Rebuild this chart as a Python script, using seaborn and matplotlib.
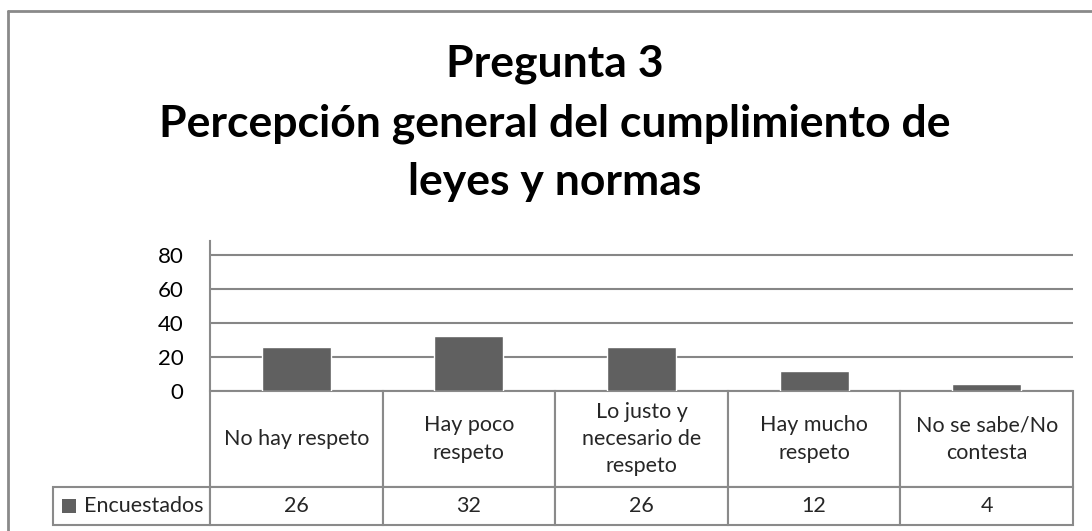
import textwrap
import numpy as np
import pandas as pd
import matplotlib
matplotlib.use("Agg")
import matplotlib.pyplot as plt
import seaborn as sns
from matplotlib.lines import Line2D
from matplotlib.patches import Rectangle
from matplotlib.table import Table

# ---- data ----
categories = ["No hay respeto", "Hay poco respeto", "Lo justo y necesario de respeto",
              "Hay mucho respeto", "No se sabe/No contesta"]
encuestados = [26, 32, 26, 12, 4]
series_name = "Encuestados"
y_ticks = [0, 20, 40, 60, 80]
title_lines = ["Pregunta 3", "Percepción general del cumplimiento de", "leyes y normas"]

# ---- style ----
sns.set_theme(style="white")
plt.rcParams["font.family"] = ["Lato", "DejaVu Sans"]

BAR = "#606060"
GRID = "#868686"
EDGE = "#8a8a8a"

W, H = 1092, 531
fig = plt.figure(figsize=(W / 100, H / 100), dpi=100)
fig.patch.set_facecolor("white")

# plot area
ax = fig.add_axes([210 / W, 1 - 391 / H, 863 / W, 150 / H])
df = pd.DataFrame({"cat": categories, "val": encuestados})
sns.barplot(data=df, x="cat", y="val", order=categories, color=BAR,
            saturation=1, width=0.4, ax=ax, zorder=3)
ax.set_xlim(-0.5, len(categories) - 0.5)
ax.set_ylim(0, 88)
ax.set_yticks(y_ticks)
ax.set_yticklabels([str(t) for t in y_ticks])
ax.set_xticks([])
ax.set_xlabel("")
ax.set_ylabel("")
ax.grid(axis="y", color=GRID, lw=1.5)
ax.set_axisbelow(True)
for s in ["top", "right", "bottom"]:
    ax.spines[s].set_visible(False)
ax.spines["left"].set_color(EDGE)
ax.spines["left"].set_linewidth(1.5)
ax.tick_params(axis="y", length=0, pad=19, labelsize=16, labelcolor="black")

# data table under the plot
wrapped = [textwrap.fill(c, 14) for c in categories]
cell_text = [[""] + wrapped, [series_name] + [str(v) for v in encuestados]]
widths = [157] + [172.6] * len(categories)
heights = [96, 38]
tbl = Table(ax, bbox=[(53 - 210) / 863, -134 / 150, 1020 / 863, 134 / 150])
for r, row in enumerate(cell_text):
    for c, txt in enumerate(row):
        loc = "right" if (r == 1 and c == 0) else "center"
        cell = tbl.add_cell(r, c, width=widths[c], height=heights[r], text=txt,
                            loc=loc, facecolor="white", edgecolor=EDGE)
        cell.set_linewidth(1.5)
        cell.get_text().set_linespacing(1.45)
        if r == 1 and c == 0:
            cell.PAD = 0.04
tbl[0, 0].visible_edges = "open"
tbl.auto_set_font_size(False)
tbl.set_fontsize(15.5)
ax.add_table(tbl)

# legend key in the table
ax.add_patch(Rectangle(((62 - 210) / 863, (391 - 513) / 150), 14 / 863, 14 / 150,
                       transform=ax.transAxes, facecolor=BAR, edgecolor="none",
                       clip_on=False, zorder=5))

# title (three centred lines)
for line, base in zip(title_lines, [77, 137, 195]):
    fig.text(555 / W, 1 - base / H, line, ha="center", va="baseline",
             fontsize=32, fontweight="bold", color="black")

# chart border (top and left visible)
fig.add_artist(Line2D([8 / W, 1.0], [1 - 11 / H, 1 - 11 / H], color=EDGE, lw=2))
fig.add_artist(Line2D([8 / W, 8 / W], [1 - 11 / H, 0.0], color=EDGE, lw=2))

fig.savefig("out.png", dpi=100)
